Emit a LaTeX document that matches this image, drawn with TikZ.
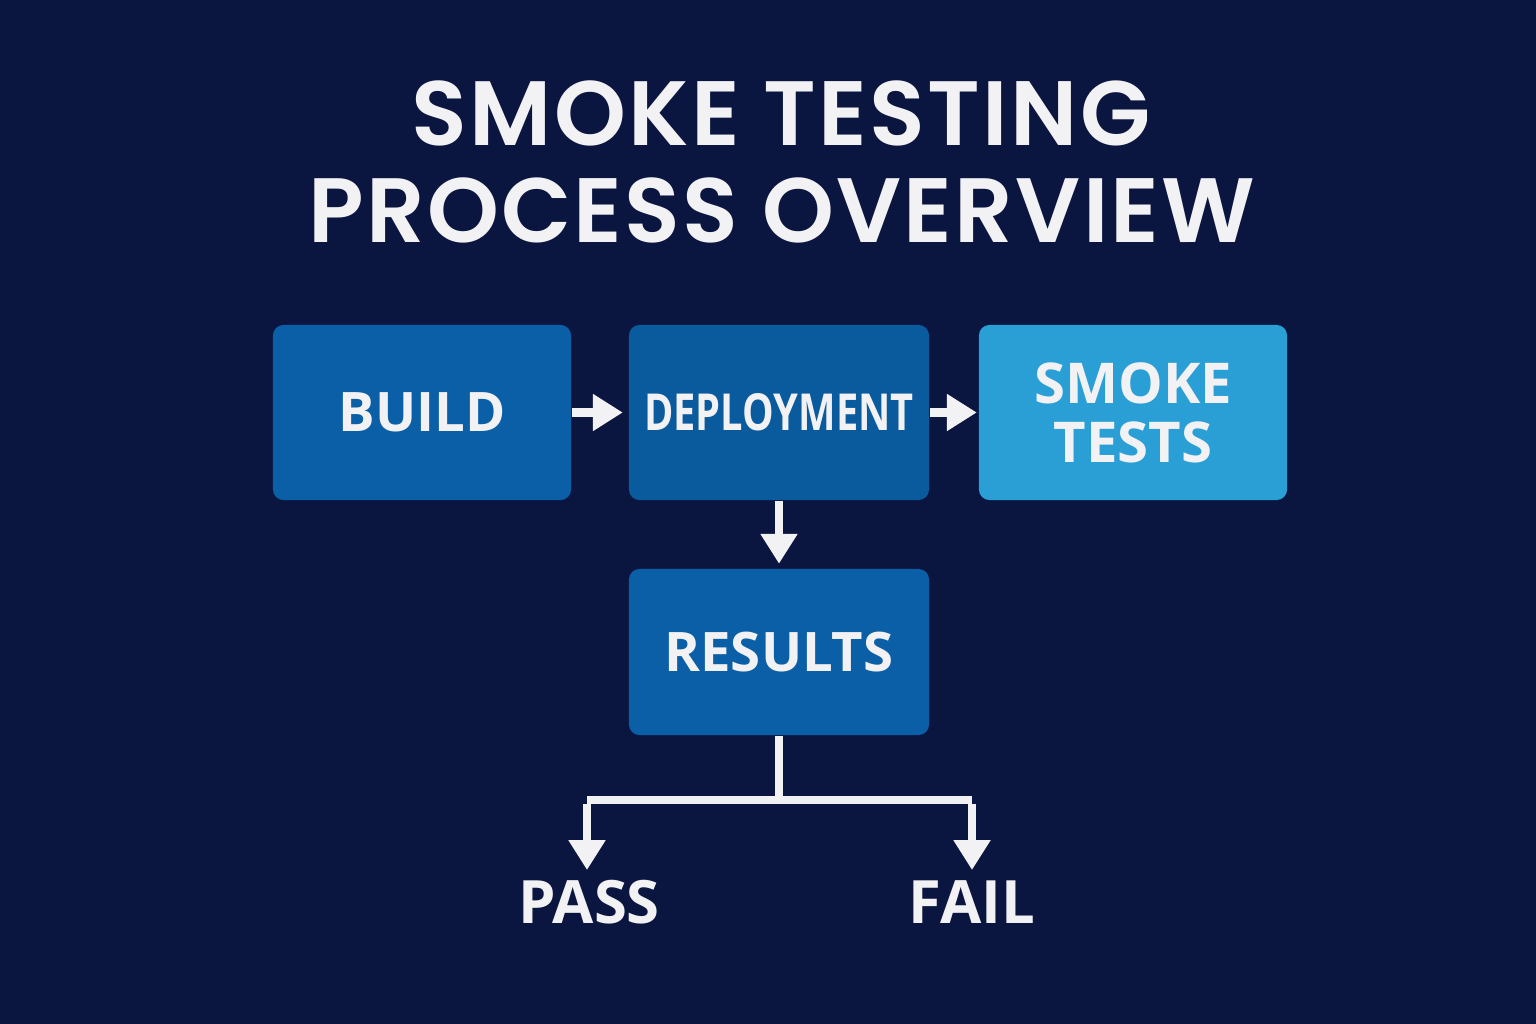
\documentclass[tikz,border=0pt]{standalone}
\usepackage{fontspec}
\setmainfont{Open Sans}
\newfontfamily\titlefont[LetterSpace=2.5]{Poppins SemiBold}
\newfontfamily\boxfont{Open Sans}
\usetikzlibrary{arrows.meta}
\definecolor{bg}{HTML}{0B1640}
\definecolor{boxblue}{HTML}{0A5FA6}
\definecolor{boxdark}{HTML}{0A5A9E}
\definecolor{boxlight}{HTML}{2A9FD6}
\definecolor{arrowwhite}{HTML}{F2F2F4}
\tikzset{
  stage/.style={rounded corners=3pt, minimum width=#1, minimum height=1.75cm, inner sep=0pt,
    text=arrowwhite, font=\boxfont\bfseries\fontsize{15.5}{17}\selectfont, align=center},
  flow/.style={draw=arrowwhite, line width=2.3pt, -{Triangle[width=10pt,length=8.5pt]}},
  outcome/.style={text=arrowwhite, font=\boxfont\bfseries\fontsize{17}{20}\selectfont, inner sep=0pt},
}
\begin{document}
\begin{tikzpicture}[x=0.01cm,y=-0.01cm]
\fill[bg] (0,0) rectangle (1536,1024);
\useasboundingbox (0,0) rectangle (1536,1024);
\node[text=arrowwhite, font=\titlefont\fontsize{26}{30}\selectfont] (t1) at (781,113) {SMOKE TESTING};
\node[text=arrowwhite, font=\titlefont\fontsize{26}{30}\selectfont] (t2) at (782,210) {PROCESS OVERVIEW};
\node[stage=2.98cm, fill=boxblue] (build) at (422,412.5) {BUILD};
\node[stage=3.00cm, fill=boxdark] (deploy) at (779,412.5) {\fontsize{14.5}{16}\selectfont\scalebox{0.78}[1]{DEPLOYMENT}};
\node[stage=3.08cm, fill=boxlight, font=\boxfont\bfseries\fontsize{16}{16.8}\selectfont] (smoke) at (1133,412.5) {SMOKE\\TESTS};
\node[stage=3.00cm, minimum height=1.66cm, fill=boxblue] (results) at (779,652) {RESULTS};
\node[outcome] (pass) at (589,902) {PASS};
\node[outcome] (fail) at (972,902) {FAIL};
\coordinate (split) at (779,800);
\coordinate (pl) at (587,800);
\coordinate (fr) at (972,800);
\draw[flow] (build.east) -- ++(51,0);
\draw[flow] (deploy.east) -- ++(47,0);
\draw[flow] (deploy.south) -- ++(0,63);
\draw[draw=arrowwhite, line width=2.3pt] (results.south) -- (split);
\draw[draw=arrowwhite, line width=2.3pt, line join=miter] (pl) -- (fr);
\draw[flow] ([yshift=-1.15pt]pl) -- ++(0,66);
\draw[flow] ([yshift=-1.15pt]fr) -- ++(0,66);
\end{tikzpicture}
\end{document}
